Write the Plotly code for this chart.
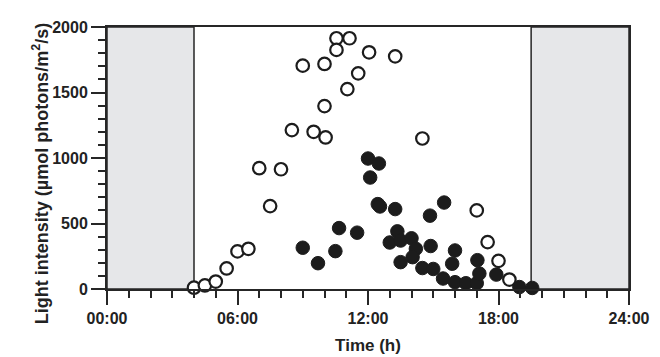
import plotly.graph_objects as go

# Open circles (time in hours, light intensity)
open_t = [4.0, 4.5, 5.0, 5.5, 6.0, 6.5, 7.0, 7.5, 8.0, 8.5, 9.0, 9.5, 10.0, 10.0,
          10.05, 10.55, 10.55, 11.15, 11.05, 11.55, 12.05, 13.25, 14.5, 17.0, 17.5, 18.0, 18.5]
open_v = [10, 27, 57, 157, 287, 307, 922, 633, 914, 1213, 1705, 1200, 1718, 1396,
          1157, 1914, 1825, 1914, 1526, 1646, 1807, 1776, 1149, 600, 358, 215, 72]

# Filled circles
fill_t = [9.0, 9.7, 10.5, 10.67, 11.5, 12.0, 12.5, 12.1, 12.45, 12.55, 13.25, 13.0,
          13.35, 13.5, 14.0, 14.2, 14.05, 13.5, 14.5, 15.0, 14.85, 15.5, 14.88, 16.0,
          15.87, 15.45, 16.0, 16.5, 17.0, 17.03, 17.12, 17.9, 18.96, 19.55]
fill_v = [315, 197, 289, 465, 430, 996, 958, 851, 648, 630, 610, 355,
          440, 370, 387, 307, 243, 205, 160, 153, 560, 660, 328, 294,
          193, 80, 52, 44, 44, 220, 118, 110, 15, 8]

# Dark periods (hours)
dark_start = [0, 19.5]
dark_end = [4.0, 24]

x_tickvals = [0, 6, 12, 18, 24]
x_ticktext = ["00:00", "06:00", "12:00", "18:00", "24:00"]
y_tickvals = [0, 500, 1000, 1500, 2000]

axis_col = "#262626"
font_fam = "Liberation Sans, Arial, sans-serif"

fig = go.Figure()

for s, e in zip(dark_start, dark_end):
    fig.add_shape(type="rect", x0=s, x1=e, y0=0, y1=2000, xref="x", yref="y",
                  fillcolor="#e6e7e9", line=dict(color=axis_col, width=1.5), layer="below")

fig.add_trace(go.Scatter(x=fill_t, y=fill_v, mode="markers", cliponaxis=False,
                         marker=dict(size=13.5, color="#1c1c1c",
                                     line=dict(color="#1c1c1c", width=1)),
                         showlegend=False))
fig.add_trace(go.Scatter(x=open_t, y=open_v, mode="markers", cliponaxis=False,
                         marker=dict(size=12.5, color="white",
                                     line=dict(color="#1c1c1c", width=2.2)),
                         showlegend=False))

fig.update_layout(
    width=660, height=357,
    margin=dict(l=99, r=39, t=19, b=76, autoexpand=False),
    plot_bgcolor="white", paper_bgcolor="white",
    font=dict(family=font_fam, size=16, color="#222"),
    showlegend=False,
)

fig.update_xaxes(
    range=[0, 24], tickvals=x_tickvals, ticktext=x_ticktext,
    showgrid=False, zeroline=False, showline=True, mirror=True,
    linecolor=axis_col, linewidth=2,
    ticks="outside", ticklen=14, tickwidth=1.5, tickcolor=axis_col,
    minor=dict(dtick=1, ticks="outside", ticklen=7, tickwidth=1.5, tickcolor=axis_col, showgrid=False),
    tickfont=dict(family=font_fam, size=16, color="#222", weight="bold"),
    title=dict(text="<b>Time (h)</b>", font=dict(family=font_fam, size=17, color="#222"), standoff=13),
)

fig.update_yaxes(
    range=[0, 2000], tickvals=y_tickvals,
    showgrid=False, zeroline=False, showline=True, mirror=True,
    linecolor=axis_col, linewidth=2,
    ticks="outside", ticklen=14, tickwidth=1.5, tickcolor=axis_col,
    minor=dict(dtick=100, ticks="outside", ticklen=7, tickwidth=1.5, tickcolor=axis_col, showgrid=False),
    tickfont=dict(family=font_fam, size=16, color="#222", weight="bold"),
)

fig.add_annotation(
    text="<b>Light intensity (µmol photons/m<sup>2</sup>/s)</b>",
    xref="paper", yref="paper", x=-0.126, y=0.439,
    xanchor="center", yanchor="middle", textangle=-90, showarrow=False,
    font=dict(family=font_fam, size=18, color="#222"),
)

fig.write_html("out.html")
